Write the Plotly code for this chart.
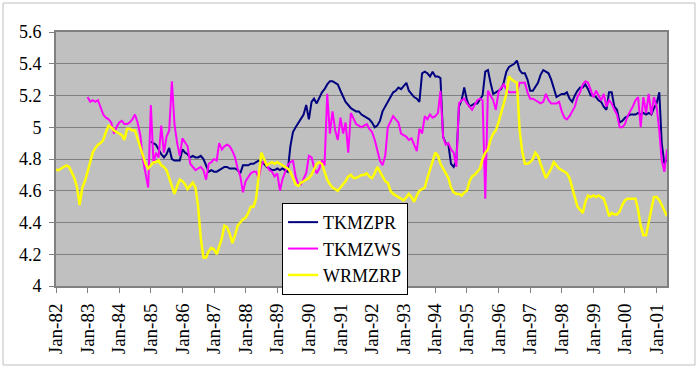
import pandas as pd
import plotly.graph_objects as go

start_month = "1982-01-01"
n_months = 233
dates = pd.date_range(start_month, periods=n_months, freq="MS")

series_names = ["TKMZPR", "TKMZWS", "WRMZRP"]

tkmzpr = [None] * 36 + [
    4.91, 4.90, 4.89, 4.86, 4.83, 4.81, 4.83, 4.87, 4.80, 4.79, 4.79, 4.79,  # 1985
    4.86, 4.84, 4.83, 4.81, 4.82, 4.81, 4.81, 4.82, 4.80, 4.76, 4.72, 4.73,  # 1986
    4.72, 4.72, 4.73, 4.74, 4.75, 4.75, 4.74, 4.74, 4.74, 4.73, 4.71, 4.76,  # 1987
    4.76, 4.76, 4.77, 4.77, 4.78, 4.79, 4.78, 4.77, 4.75, 4.74, 4.73, 4.73,  # 1988
    4.74, 4.73, 4.74, 4.73, 4.72, 4.88, 4.97, 5.00, 5.03, 5.05, 5.08, 5.14,  # 1989
    5.05, 5.16, 5.18, 5.15, 5.18, 5.22, 5.24, 5.27, 5.29, 5.29, 5.28, 5.27,  # 1990
    5.23, 5.19, 5.16, 5.14, 5.12, 5.11, 5.10, 5.10, 5.08, 5.07, 5.06, 5.05,  # 1991
    5.03, 5.00, 5.01, 5.04, 5.10, 5.13, 5.16, 5.19, 5.22, 5.23, 5.25, 5.24,  # 1992
    5.26, 5.28, 5.23, 5.21, 5.19, 5.18, 5.16, 5.34, 5.35, 5.34, 5.32, 5.35,  # 1993
    5.32, 5.32, 5.31, 4.94, 4.90, 4.89, 4.77, 4.75, 4.79, 5.13, 5.17, 5.25,  # 1994
    5.17, 5.13, 5.14, 5.15, 5.15, 5.18, 5.20, 5.35, 5.36, 5.28, 5.21, 5.22,  # 1995
    5.23, 5.24, 5.28, 5.35, 5.38, 5.39, 5.40, 5.42, 5.36, 5.34, 5.34, 5.30,  # 1996
    5.23, 5.23, 5.25, 5.28, 5.33, 5.36, 5.35, 5.34, 5.30, 5.25, 5.19, 5.20,  # 1997
    5.21, 5.21, 5.22, 5.18, 5.16, 5.20, 5.23, 5.25, 5.25, 5.27, 5.24, 5.20,  # 1998
    5.20, 5.19, 5.17, 5.16, 5.13, 5.11, 5.22, 5.22, 5.13, 5.11, 5.03, 5.04,  # 1999
    5.06, 5.07, 5.08, 5.08, 5.08, 5.09, 5.08, 5.09, 5.08, 5.09, 5.08, 5.12,  # 2000
    5.15, 5.22, 4.90, 4.77, 4.80,                                            # 2001
]

tkmzws = [None] * 12 + [
    5.19, 5.16, 5.17, 5.16, 5.17, 5.13, 5.08, 5.06, 5.05, 5.03, 4.96, 5.00,  # 1983
    5.03, 5.04, 5.02, 5.02, 5.03, 5.05, 5.08, 5.03, 4.95, 4.80, 4.71, 4.62,  # 1984
    5.14, 4.77, 4.84, 4.81, 5.01, 4.84, 4.94, 4.98, 5.29, 5.02, 4.90, 4.82,  # 1985
    4.93, 4.90, 4.88, 4.77, 4.75, 4.73, 4.74, 4.75, 4.73, 4.67, 4.77, 4.78,  # 1986
    4.80, 4.79, 4.90, 4.86, 4.88, 4.89, 4.88, 4.85, 4.81, 4.74, 4.69, 4.59,  # 1987
    4.66, 4.69, 4.71, 4.72, 4.72, 4.68, 4.76, 4.79, 4.76, 4.73, 4.72, 4.69,  # 1988
    4.71, 4.60, 4.67, 4.71, 4.76, 4.78, 4.79, 4.69, 4.64, 4.64, 4.68, 4.71,  # 1989
    4.82, 4.81, 4.75, 4.71, 4.74, 4.79, 4.76, 5.21, 4.96, 5.10, 4.98, 4.92,  # 1990
    5.06, 4.96, 5.03, 4.84, 5.09, 5.05, 5.02, 5.01, 5.00, 5.01, 5.02, 4.99,  # 1991
    4.97, 4.92, 4.85, 4.79, 4.76, 4.82, 5.00, 5.04, 5.07, 5.05, 5.03, 4.96,  # 1992
    4.95, 4.94, 4.92, 4.93, 4.89, 4.85, 4.99, 4.96, 5.07, 5.05, 5.08, 5.06,  # 1993
    5.07, 5.09, 5.23, 4.94, 4.89, 4.90, 4.86, 4.84, 4.75, 5.15, 5.17, 5.18,  # 1994
    5.15, 5.13, 5.11, 5.14, 5.17, 5.18, 5.17, 4.55, 5.23, 5.20, 5.17, 5.11,  # 1995
    5.22, 5.25, 5.27, 5.24, 5.22, 5.22, 5.22, 5.22, 5.28, 5.28, 5.28, 5.22,  # 1996
    5.18, 5.18, 5.17, 5.16, 5.15, 5.16, 5.21, 5.17, 5.15, 5.15, 5.15, 5.16,  # 1997
    5.10, 5.06, 5.05, 5.07, 5.10, 5.13, 5.19, 5.22, 5.27, 5.29, 5.28, 5.23,  # 1998
    5.19, 5.23, 5.20, 5.17, 5.21, 5.13, 5.17, 5.15, 5.11, 5.08, 5.00, 5.00,  # 1999
    5.02, 5.07, 5.10, 5.13, 5.17, 5.19, 5.00, 5.19, 5.09, 5.21, 5.08, 5.19,  # 2000
    5.13, 4.98, 4.79, 4.72, 4.86,                                            # 2001
]

wrmzrp = [
    4.73, 4.73, 4.74, 4.75, 4.76, 4.75, 4.72, 4.68, 4.62, 4.51, 4.62, 4.66,  # 1982
    4.72, 4.78, 4.84, 4.87, 4.89, 4.90, 4.92, 4.97, 5.01, 5.00, 4.98, 4.97,  # 1983
    4.96, 4.95, 4.92, 4.99, 4.99, 4.98, 4.98, 4.93, 4.87, 4.82, 4.77, 4.74,  # 1984
    4.76, 4.78, 4.78, 4.79, 4.76, 4.75, 4.73, 4.68, 4.62, 4.58, 4.63, 4.67,  # 1985
    4.66, 4.64, 4.61, 4.63, 4.65, 4.62, 4.50, 4.30, 4.18, 4.18, 4.22, 4.24,  # 1986
    4.23, 4.20, 4.25, 4.30, 4.38, 4.37, 4.33, 4.27, 4.32, 4.38, 4.40, 4.42,  # 1987
    4.43, 4.46, 4.50, 4.50, 4.55, 4.70, 4.84, 4.80, 4.76, 4.77, 4.78, 4.77,  # 1988
    4.78, 4.77, 4.76, 4.75, 4.74, 4.72, 4.68, 4.64, 4.63, 4.65, 4.66, 4.67,  # 1989
    4.68, 4.70, 4.73, 4.77, 4.78, 4.77, 4.72, 4.67, 4.64, 4.62, 4.61, 4.60,  # 1990
    4.62, 4.64, 4.66, 4.69, 4.70, 4.68, 4.68, 4.69, 4.70, 4.70, 4.71, 4.69,  # 1991
    4.68, 4.71, 4.75, 4.72, 4.69, 4.66, 4.65, 4.60, 4.58, 4.57, 4.56, 4.55,  # 1992
    4.54, 4.56, 4.58, 4.56, 4.53, 4.57, 4.60, 4.61, 4.62, 4.68, 4.73, 4.78,  # 1993
    4.84, 4.82, 4.77, 4.74, 4.71, 4.68, 4.62, 4.59, 4.58, 4.58, 4.57, 4.59,  # 1994
    4.60, 4.66, 4.69, 4.70, 4.72, 4.74, 4.80, 4.84, 4.86, 4.92, 4.96, 4.98,  # 1995
    5.03, 5.09, 5.15, 5.21, 5.32, 5.30, 5.29, 5.28, 4.98, 4.85, 4.77, 4.77,  # 1996
    4.78, 4.80, 4.84, 4.82, 4.77, 4.72, 4.68, 4.71, 4.74, 4.78, 4.76, 4.74,  # 1997
    4.73, 4.72, 4.71, 4.68, 4.62, 4.56, 4.50, 4.48, 4.46, 4.53, 4.57, 4.56,  # 1998
    4.57, 4.56, 4.57, 4.56, 4.55, 4.50, 4.44, 4.46, 4.45, 4.45, 4.47, 4.51,  # 1999
    4.54, 4.55, 4.55, 4.55, 4.55, 4.48, 4.38, 4.32, 4.32, 4.40, 4.48, 4.56,  # 2000
    4.56, 4.54, 4.51, 4.47, 4.44,                                            # 2001
]

y_ticks = [4, 4.2, 4.4, 4.6, 4.8, 5, 5.2, 5.4, 5.6]
y_tick_labels = ["4", "4.2", "4.4", "4.6", "4.8", "5", "5.2", "5.4", "5.6"]

assert len(tkmzpr) == n_months and len(tkmzws) == n_months and len(wrmzrp) == n_months

colors = ["#000080", "#ff00ff", "#ffff00"]
widths = [2, 2, 2.5]
serif = "Liberation Serif"

fig = go.Figure()
for i, (name, vals) in enumerate(zip(series_names, [tkmzpr, tkmzws, wrmzrp])):
    fig.add_trace(go.Scatter(
        x=dates, y=vals, name=name, mode="lines",
        line=dict(color=colors[i], width=widths[i]),
        legendgroup=name, connectgaps=False,
    ))

fig.update_layout(
    width=699, height=369, autosize=False,
    margin=dict(l=56, r=32, t=32, b=83),
    paper_bgcolor="white", plot_bgcolor="#c0c0c0",
    font=dict(family=serif, color="black"),
    showlegend=True,
    legend=dict(
        x=0.37, y=0.327, xanchor="left", yanchor="top",
        bgcolor="white", bordercolor="black", borderwidth=1,
        font=dict(family=serif, size=18, color="black"),
        tracegroupgap=0, itemwidth=30,
    ),
)
fig.update_xaxes(
    range=[dates[0], dates[-1]],
    tickformat="%b-%y", dtick="M12", tick0=start_month,
    tickangle=-90, tickfont=dict(family=serif, size=19),
    ticks="outside", ticklen=5, tickcolor="#808080",
    ticklabelstandoff=3,
    showgrid=False, zeroline=False,
    showline=True, linecolor="#808080", linewidth=2, mirror=True,
)
fig.update_yaxes(
    range=[4, 5.6], tickvals=y_ticks, ticktext=y_tick_labels,
    tickfont=dict(family=serif, size=18),
    ticks="outside", ticklen=5, tickcolor="#808080",
    ticklabelstandoff=4,
    showgrid=True, gridcolor="#808080", gridwidth=1,
    zeroline=False,
    showline=True, linecolor="#808080", linewidth=2, mirror=True,
)
# outer chart-area border
fig.add_shape(type="rect", xref="paper", yref="paper",
              x0=-0.0867, x1=1.0458, y0=-0.311, y1=1.114,
              line=dict(color="#bfbfbf", width=1), fillcolor="rgba(0,0,0,0)",
              layer="below")

fig.write_html("out.html", config={"displayModeBar": False},
               post_script="document.body.style.margin='0';")
